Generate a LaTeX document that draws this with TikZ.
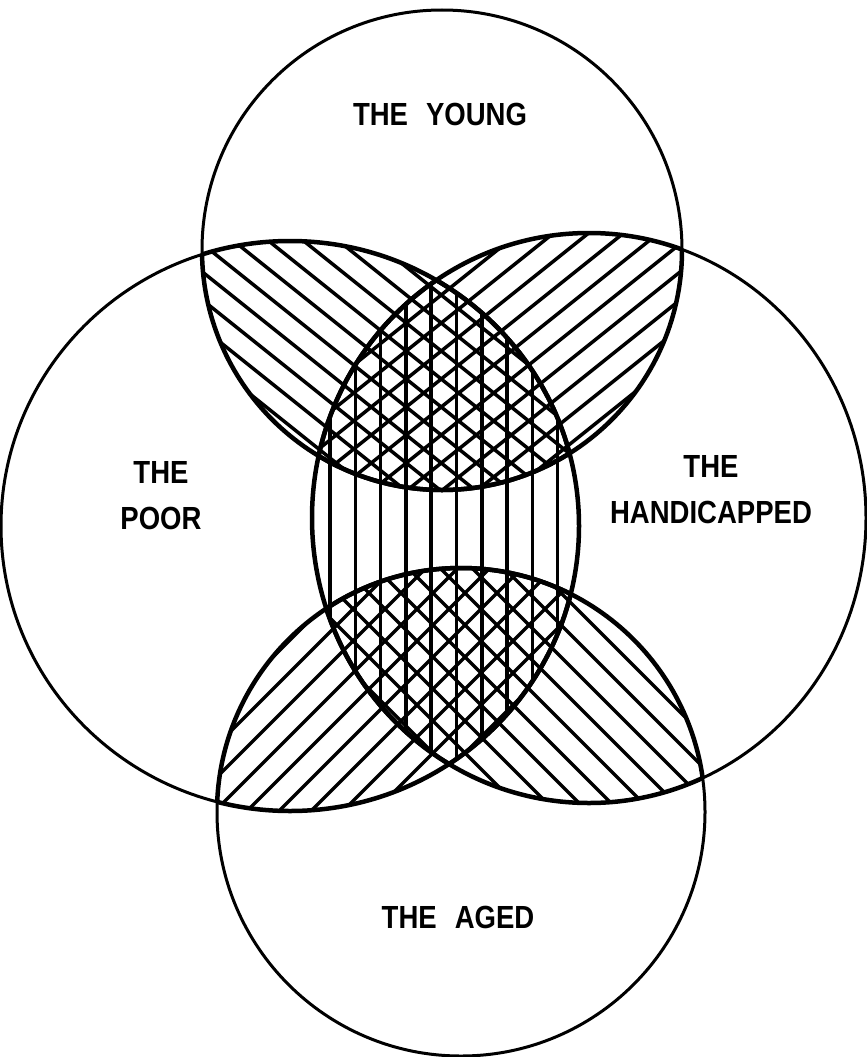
\documentclass[tikz,border=0pt]{standalone}
\usepackage{fontspec}
\setmainfont{Liberation Sans}[FakeStretch=0.86]
\tikzset{
  ring/.style={line width=3pt},
  rim/.style={line width=4.5pt},
  hatch/.style={line width=3.5pt},
  lbl/.style={font=\bfseries\fontsize{32}{46}\selectfont, align=center, inner sep=0pt}
}
\newcommand\pyoung{(442,250) circle[radius=240]}
\newcommand\ppoor{(290,526) ellipse[x radius=289, y radius=285]}
\newcommand\phandi{(589,518) ellipse[x radius=277, y radius=285]}
\newcommand\paged{(461,812) circle[radius=244]}
\begin{document}
\begin{tikzpicture}[x=1pt,y=-1pt]
\useasboundingbox (0,0) rectangle (867,1057);
\begin{scope}\clip\pyoung;\clip\ppoor;
  \foreach \s in {-226,-198,...,350} \draw[hatch] (150,{0.8*150+(\s)}) -- (750,{0.8*750+(\s)});
\end{scope}
\begin{scope}\clip\pyoung;\clip\phandi;
  \foreach \s in {480,508,...,1050} \draw[hatch] (150,{-0.8*150+(\s)}) -- (750,{-0.8*750+(\s)});
\end{scope}
\begin{scope}\clip\paged;\clip\ppoor;
  \foreach \s in {770,802,...,1400} \draw[hatch] (150,{-150+(\s)}) -- (750,{-750+(\s)});
\end{scope}
\begin{scope}\clip\paged;\clip\phandi;
  \foreach \s in {-160,-128,...,510} \draw[hatch] (150,{150+(\s)}) -- (750,{750+(\s)});
\end{scope}
\begin{scope}\clip\ppoor;\clip\phandi;
  \foreach \i in {0,...,9} \draw[hatch] ({330+25.3*\i},200) -- ({330+25.3*\i},900);
\end{scope}
\draw[ring] \pyoung;
\draw[ring] \ppoor;
\draw[ring] \phandi;
\draw[ring] \paged;
\foreach \one/\two in {young/poor,young/handi,poor/young,poor/handi,poor/aged,handi/young,handi/poor,handi/aged,aged/poor,aged/handi}{
  \begin{scope}\clip \csname p\two\endcsname; \draw[rim] \csname p\one\endcsname; \end{scope}
}
\node[lbl] (young) at (440,114) {THE\hspace{18pt}YOUNG};
\node[lbl] (poor) at (161,496) {THE\\POOR};
\node[lbl] (handi) at (711,490) {THE\\HANDICAPPED};
\node[lbl] (aged) at (458,917) {THE\hspace{18pt}AGED};
\end{tikzpicture}
\end{document}
